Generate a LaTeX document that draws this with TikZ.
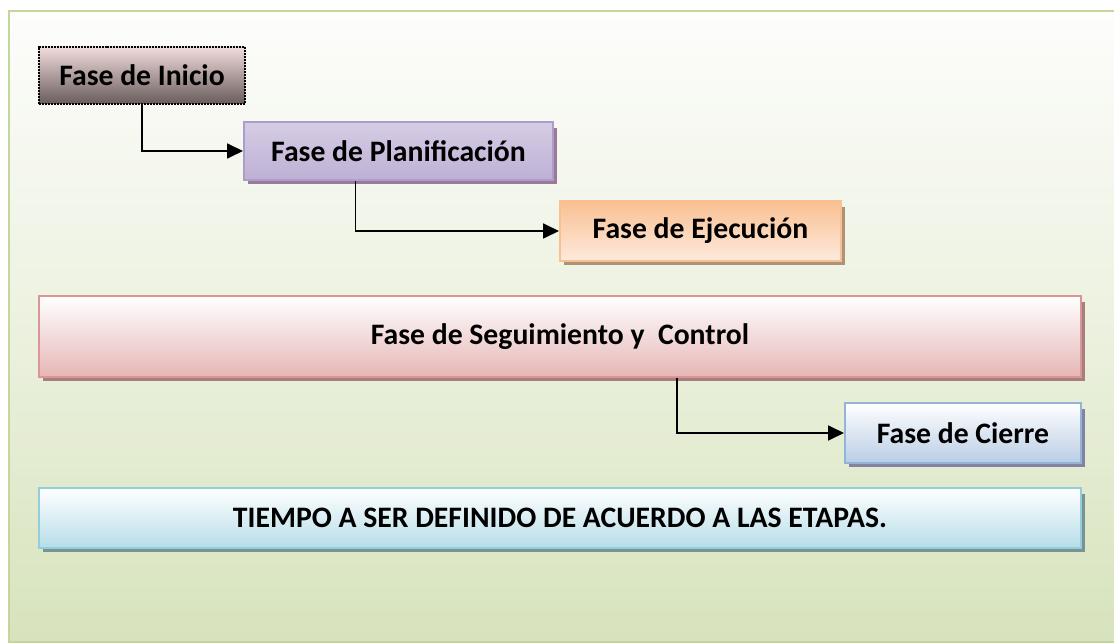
\documentclass[tikz,border=0pt]{standalone}
\usepackage{fontspec}
\setmainfont{Carlito}
\usetikzlibrary{arrows.meta,calc,shadings}
\definecolor{frameborder}{HTML}{C3D69B}
\definecolor{bgtop}{HTML}{FDFDFC}
\definecolor{bgbot}{HTML}{D7E3BC}
\tikzset{
  phase/.style={rectangle, inner sep=0pt, line width=2bp, font=\fontsize{29.7bp}{34bp}\selectfont\bfseries, text=black},
  arr/.style={line width=1.8bp, -{Triangle[length=16bp,width=15bp]}},
  link/.style={line width=1.8bp},
  shadowbox/.style={fill=#1, draw=none}
}
\begin{document}
\begin{tikzpicture}[x=1bp,y=-1bp]
\useasboundingbox (0,0) rectangle (1114,643);
\clip (0,0) rectangle (1114,643);
% background frame
\shade[top color=bgtop, bottom color=bgbot, middle color=bgtop!55!bgbot] (9,11) rectangle (1125,642);
\draw[frameborder, line width=2.2bp] (9,11) rectangle (1125,642);

% shadows
\fill[shadowbox=violet!30!gray!80] (248,128) rectangle (557,184);
\fill[shadowbox=brown!50!gray!85] (564,207) rectangle (845,265);
\fill[shadowbox=red!20!gray!85] (43,302) rectangle (1085,381);
\fill[shadowbox=blue!15!gray!85] (849,409) rectangle (1085,467);
\fill[shadowbox=teal!25!gray!85] (43,494) rectangle (1085,552);

% nodes
\node[phase, draw=black, densely dotted, top color={rgb,255:red,242;green,220;blue,220}, bottom color={rgb,255:red,105;green,92;blue,92}, minimum width=206bp, minimum height=57bp] (ini) at (142,75.5) {Fase de Inicio};
\node[phase, draw={rgb,255:red,172;green,158;blue,202}, top color={rgb,255:red,214;green,205;blue,229}, middle color={rgb,255:red,236;green,232;blue,243}, bottom color={rgb,255:red,190;green,176;blue,212}, minimum width=309bp, minimum height=58bp] (plan) at (398.5,151) {Fase de Planificación};
\node[phase, draw={rgb,255:red,250;green,192;blue,144}, top color={rgb,255:red,249;green,192;blue,146}, bottom color={rgb,255:red,253;green,234;blue,221}, minimum width=281bp, minimum height=60bp] (eje) at (700.5,231) {Fase de Ejecución};
\node[phase, draw={rgb,255:red,218;green,150;blue,148}, top color=white, bottom color={rgb,255:red,229;green,182;blue,181}, minimum width=1042bp, minimum height=81bp] (seg) at (560,336.5) {Fase de Seguimiento y\ \ Control};
\node[phase, draw={rgb,255:red,149;green,179;blue,215}, top color=white, bottom color={rgb,255:red,185;green,205;blue,229}, minimum width=236bp, minimum height=60bp] (cie) at (963,433) {Fase de Cierre};
\node[phase, draw={rgb,255:red,146;green,205;blue,220}, top color=white, bottom color={rgb,255:red,182;green,221;blue,232}, minimum width=1042bp, minimum height=60bp] (tie) at (560,518) {TIEMPO A SER DEFINIDO DE ACUERDO A LAS ETAPAS.};

% connectors
\draw[arr] (ini.south) |- (plan.west);
\draw[arr] ($(plan.south west)!0.362!(plan.south east)$) |- (eje.west);
\draw[link] ($(eje.south west)!0.42!(eje.south east)$) -- ($(eje.south west)!0.42!(eje.south east)$ |- seg.north);
\draw[arr] ($(seg.south west)!0.612!(seg.south east)$) |- (cie.west);
\end{tikzpicture}
\end{document}
